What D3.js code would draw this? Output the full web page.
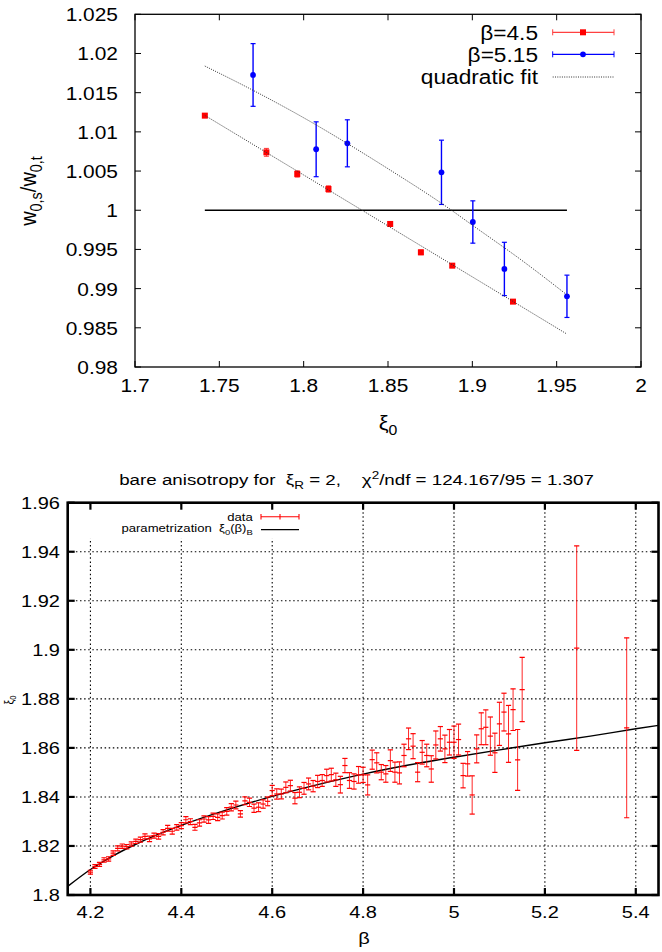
<!DOCTYPE html>
<html><head><meta charset="utf-8">
<script src="https://cdn.jsdelivr.net/npm/d3@7"></script>
<style>
body{margin:0;background:#fff}
svg{display:block}
text{font-family:"Liberation Sans",Arial,Helvetica,sans-serif;fill:#000;white-space:pre}
</style>
</head><body>
<svg id="c" width="662" height="952"></svg>
<script>
// ---------- TOP CHART DATA ----------
const topXTicks = [1.7, 1.75, 1.8, 1.85, 1.9, 1.95, 2.0];
const topXTickLabels = ["1.7", "1.75", "1.8", "1.85", "1.9", "1.95", "2"];
const topYTicks = [0.98, 0.985, 0.99, 0.995, 1.0, 1.005, 1.01, 1.015, 1.02, 1.025];
const topYTickLabels = ["0.98", "0.985", "0.99", "0.995", "1", "1.005", "1.01", "1.015", "1.02", "1.025"];

const xi45 = [1.7414, 1.7779, 1.7962, 1.8147, 1.8513, 1.8695, 1.8881, 1.9241];
const ratio45 = [1.01207, 1.00739, 1.00463, 1.00271, 0.99825, 0.99463, 0.99293, 0.98834];
const err45 = [0.0002, 0.0005, 0.0004, 0.0004, 0.0003, 0.0003, 0.0002, 0.0002];

const xi515 = [1.7700, 1.8074, 1.8259, 1.8817, 1.9003, 1.9190, 1.9561];
const ratio515 = [1.01726, 1.00778, 1.00854, 1.00484, 0.99850, 0.99251, 0.98902];
const err515 = [0.0040, 0.0035, 0.0030, 0.0041, 0.0027, 0.0034, 0.0027];

const fit45X = [1.7414, 1.80, 1.85, 1.90, 1.9561];
const fit45Y = [1.0121, 1.0045, 0.9980, 0.9915, 0.9842];
const fit515X = [1.7414, 1.77, 1.80, 1.826, 1.85, 1.885, 1.90, 1.93, 1.9561];
const fit515Y = [1.0184, 1.0153, 1.0118, 1.0085, 1.0053, 1.0004, 0.9981, 0.9935, 0.9892];
const unityX = [1.7414, 1.9561];
const unityY = [1.0, 1.0];
const topLegend = ["\u03b2=4.5", "\u03b2=5.15", "quadratic fit"];

// ---------- BOTTOM CHART DATA ----------
const botXTicks = [4.2, 4.4, 4.6, 4.8, 5.0, 5.2, 5.4];
const botXTickLabels = ["4.2", "4.4", "4.6", "4.8", "5", "5.2", "5.4"];
const botYTicks = [1.8, 1.82, 1.84, 1.86, 1.88, 1.9, 1.92, 1.94, 1.96];
const botYTickLabels = ["1.8", "1.82", "1.84", "1.86", "1.88", "1.9", "1.92", "1.94", "1.96"];

const beta = [4.20,4.21,4.22,4.23,4.24,4.25,4.26,4.27,4.28,4.29,
  4.30,4.31,4.32,4.33,4.34,4.35,4.36,4.37,4.38,4.39,
  4.40,4.41,4.42,4.43,4.44,4.45,4.46,4.47,4.48,4.49,
  4.50,4.51,4.52,4.53,4.54,4.55,4.56,4.57,4.58,4.59,
  4.60,4.61,4.62,4.63,4.64,4.65,4.66,4.67,4.68,4.69,
  4.70,4.71,4.72,4.73,4.74,4.75,4.76,4.77,4.78,4.79,
  4.80,4.81,4.82,4.83,4.84,4.85,4.86,4.87,4.88,4.89,
  4.90,4.91,4.92,4.93,4.94,4.95,4.96,4.97,4.98,4.99,
  5.00,5.01,5.02,5.03,5.04,5.05,5.06,5.07,5.08,5.09,
  5.10,5.11,5.12,5.13,5.14,5.15,5.27,5.38];
const xi0 = [1.8093,1.8116,1.8125,1.8143,1.8147,1.8171,1.8190,1.8199,1.8197,1.8208,
  1.8219,1.8226,1.8239,1.8229,1.8242,1.8239,1.8256,1.8272,1.8260,1.8276,
  1.8283,1.8307,1.8299,1.8276,1.8294,1.8310,1.8306,1.8321,1.8317,1.8324,
  1.8341,1.8358,1.8367,1.8331,1.8384,1.8378,1.8354,1.8358,1.8371,1.8382,
  1.8426,1.8412,1.8412,1.8439,1.8446,1.8395,1.8419,1.8435,1.8453,1.8444,
  1.8463,1.8467,1.8487,1.8491,1.8470,1.8450,1.8528,1.8467,1.8463,1.8490,
  1.8490,1.8449,1.8552,1.8539,1.8501,1.8494,1.8548,1.8501,1.8498,1.8569,
  1.8637,1.8607,1.8501,1.8582,1.8569,1.8514,1.8612,1.8637,1.8596,1.8623,
  1.8623,1.8634,1.8487,1.8535,1.8408,1.8596,1.8678,1.8684,1.8648,1.8580,
  1.8698,1.8746,1.8657,1.8756,1.8551,1.8838,1.9007,1.8682];
const xi0Err = [0.0008,0.0008,0.0008,0.0009,0.0009,0.0009,0.0010,0.0009,0.0009,0.0009,
  0.0009,0.0010,0.0010,0.0011,0.0010,0.0011,0.0011,0.0012,0.0012,0.0011,
  0.0012,0.0013,0.0012,0.0012,0.0013,0.0013,0.0014,0.0013,0.0014,0.0014,
  0.0015,0.0015,0.0016,0.0013,0.0016,0.0017,0.0017,0.0018,0.0017,0.0018,
  0.0021,0.0021,0.0020,0.0022,0.0022,0.0023,0.0022,0.0024,0.0024,0.0023,
  0.0025,0.0024,0.0026,0.0026,0.0027,0.0034,0.0029,0.0032,0.0031,0.0034,
  0.0031,0.0041,0.0039,0.0041,0.0031,0.0034,0.0044,0.0041,0.0045,0.0046,
  0.0044,0.0051,0.0039,0.0048,0.0046,0.0054,0.0057,0.0050,0.0056,0.0052,
  0.0066,0.0063,0.0050,0.0050,0.0078,0.0057,0.0065,0.0071,0.0078,0.0080,
  0.0088,0.0077,0.0116,0.0085,0.0124,0.0131,0.0417,0.0367];

const paramX = [4.15,4.20,4.25,4.30,4.35,4.40,4.50,4.60,4.70,4.80,4.90,5.00,5.10,5.20,5.30,5.40,5.45];
const paramY = [1.8035,1.8104,1.8160,1.8207,1.8248,1.8284,1.8347,1.8402,1.8450,1.8493,1.8530,1.8562,1.8592,1.8621,1.8648,1.8678,1.8692];

// ---------- DRAW ----------
const svg = d3.select("#c");

function label(g, x, y, size, sx, anchor, parts, rot) {
  const t = g.append("text")
    .attr("transform", `translate(${x},${y}) scale(${sx},1)` + (rot ? ` rotate(${rot})` : ""))
    .attr("font-size", size)
    .attr("text-anchor", anchor);
  if (typeof parts === "string") { t.text(parts); return t; }
  parts.forEach(p => {
    const s = t.append("tspan").text(p.t);
    if (p.sub) s.attr("font-size", size * 0.72).attr("dy", size * 0.25);
    if (p.sup) s.attr("font-size", size * 0.72).attr("dy", -size * 0.42);
    if (p.back) s.attr("dy", p.back);
  });
  return t;
}

// ===== TOP =====
{
  const L = 135, R = 641, T = 14.3, B = 367;
  const x = d3.scaleLinear().domain([1.7, 2.0]).range([L, R]);
  const y = d3.scaleLinear().domain([0.98, 1.025]).range([B, T]);
  const g = svg.append("g");
  const fs = 19, sx = 1.1;

  // ticks (mirror, inward)
  const tl = 6;
  topXTicks.forEach(v => {
    g.append("line").attr("x1", x(v)).attr("x2", x(v)).attr("y1", B).attr("y2", B - tl).attr("stroke", "#000");
    g.append("line").attr("x1", x(v)).attr("x2", x(v)).attr("y1", T).attr("y2", T + tl).attr("stroke", "#000");
  });
  topYTicks.forEach(v => {
    g.append("line").attr("x1", L).attr("x2", L + tl).attr("y1", y(v)).attr("y2", y(v)).attr("stroke", "#000");
    g.append("line").attr("x1", R).attr("x2", R - tl).attr("y1", y(v)).attr("y2", y(v)).attr("stroke", "#000");
  });
  topXTicks.forEach((v, i) => label(g, x(v), 392, fs, sx, "middle", topXTickLabels[i]));
  topYTicks.forEach((v, i) => label(g, 118, y(v) + 7, fs, sx, "end", topYTickLabels[i]));

  g.append("rect").attr("x", L).attr("y", T).attr("width", R - L).attr("height", B - T)
    .attr("fill", "none").attr("stroke", "#000").attr("stroke-width", 1.3);

  // unity line
  const line = d3.line().x(d => x(d[0])).y(d => y(d[1]));
  g.append("path").attr("d", line(unityX.map((v, i) => [v, unityY[i]])))
    .attr("stroke", "#000").attr("stroke-width", 1.3).attr("fill", "none");

  // beta=4.5 red
  xi45.forEach((v, i) => {
    const cx = x(v), y1 = y(ratio45[i] - err45[i]), y2 = y(ratio45[i] + err45[i]);
    g.append("line").attr("x1", cx).attr("x2", cx).attr("y1", y1).attr("y2", y2).attr("stroke", "#ff3030").attr("stroke-width", 1);
    [y1, y2].forEach(yy => g.append("line").attr("x1", cx - 2.5).attr("x2", cx + 2.5).attr("y1", yy).attr("y2", yy).attr("stroke", "#ff3030"));
    g.append("rect").attr("x", cx - 3).attr("y", y(ratio45[i]) - 3).attr("width", 6).attr("height", 6).attr("fill", "#ff0000");
  });
  // beta=5.15 blue
  xi515.forEach((v, i) => {
    const cx = x(v), y1 = y(ratio515[i] - err515[i]), y2 = y(ratio515[i] + err515[i]);
    g.append("line").attr("x1", cx).attr("x2", cx).attr("y1", y1).attr("y2", y2).attr("stroke", "#0000ff").attr("stroke-width", 1.4);
    [y1, y2].forEach(yy => g.append("line").attr("x1", cx - 2.5).attr("x2", cx + 2.5).attr("y1", yy).attr("y2", yy).attr("stroke", "#0000ff").attr("stroke-width", 1.2));
    g.append("circle").attr("cx", cx).attr("cy", y(ratio515[i])).attr("r", 2.9).attr("fill", "#0000ff");
  });
  // fits
  const cl = d3.line().x(d => x(d[0])).y(d => y(d[1])).curve(d3.curveMonotoneX);
  [[fit45X, fit45Y], [fit515X, fit515Y]].forEach(([fx, fy]) => {
    g.append("path").attr("d", cl(fx.map((v, i) => [v, fy[i]])))
      .attr("fill", "none").attr("stroke", "#333").attr("stroke-width", 1).attr("stroke-dasharray", "1,1.3");
  });

  // legend
  const lx1 = 552.7, lx2 = 614, lxm = 583, tx = 538;
  const ly = [32.3, 54.3, 77];
  label(g, tx, ly[0] + 7.5, 21, 1.08, "end", topLegend[0]);
  label(g, tx, ly[1] + 7.5, 21, 1.08, "end", topLegend[1]);
  label(g, tx, ly[2] + 7, 21, 1.08, "end", topLegend[2]);
  g.append("line").attr("x1", lx1).attr("x2", lx2).attr("y1", ly[0]).attr("y2", ly[0]).attr("stroke", "#ff4040").attr("stroke-width", 1.3);
  [lx1, lx2].forEach(xx => g.append("line").attr("x1", xx).attr("x2", xx).attr("y1", ly[0] - 3).attr("y2", ly[0] + 3).attr("stroke", "#ff4040"));
  g.append("rect").attr("x", lxm - 3).attr("y", ly[0] - 3).attr("width", 6).attr("height", 6).attr("fill", "#ff0000");
  g.append("line").attr("x1", lx1).attr("x2", lx2).attr("y1", ly[1]).attr("y2", ly[1]).attr("stroke", "#0000ff").attr("stroke-width", 1.3);
  [lx1, lx2].forEach(xx => g.append("line").attr("x1", xx).attr("x2", xx).attr("y1", ly[1] - 3).attr("y2", ly[1] + 3).attr("stroke", "#0000ff"));
  g.append("circle").attr("cx", lxm).attr("cy", ly[1]).attr("r", 2.9).attr("fill", "#0000ff");
  g.append("line").attr("x1", lx1).attr("x2", lx2).attr("y1", ly[2]).attr("y2", ly[2]).attr("stroke", "#333").attr("stroke-dasharray", "1,1.3");

  // axis titles
  label(g, 388, 430, 20, 1.1, "middle", [{t: "\u03be"}, {t: "0", sub: true}]);
  label(g, 36, 191, 20, 1.1, "middle", [{t: "w"}, {t: "0,s", sub: true}, {t: "/w", back: -5}, {t: "0,t", sub: true}], -90);
}

// ===== BOTTOM =====
{
  const L = 67.7, R = 658.5, T = 502.7, B = 895;
  const x = d3.scaleLinear().domain([4.15, 5.45]).range([L, R]);
  const y = d3.scaleLinear().domain([1.8, 1.96]).range([B, T]);
  const g = svg.append("g");
  const fs = 16, sx = 1.25;

  // title
  label(g, 356.5, 485, 15, 1.25, "middle", [
    {t: "bare anisotropy for  \u03be"}, {t: "R", sub: true}, {t: " = 2,    \u03c7", back: -3.75},
    {t: "2", sup: true}, {t: "/ndf = 124.167/95 = 1.307", back: 6.3}
  ]);

  // grid
  const grid = g.append("g").attr("stroke", "#000").attr("stroke-width", 1.1).attr("stroke-dasharray", "1.5,2.6");
  botXTicks.forEach(v => grid.append("line").attr("x1", x(v)).attr("x2", x(v)).attr("y1", B).attr("y2", T));
  botYTicks.slice(1, -1).forEach(v => grid.append("line").attr("x1", L).attr("x2", R).attr("y1", y(v)).attr("y2", y(v)));
  // opaque key area
  g.append("rect").attr("x", L + 2).attr("y", T + 2).attr("width", 238).attr("height", 34).attr("fill", "#fff");

  // parametrization curve
  const clipId = "clipB";
  svg.append("clipPath").attr("id", clipId).append("rect").attr("x", L).attr("y", T).attr("width", R - L).attr("height", B - T);
  const cl = d3.line().x(d => x(d[0])).y(d => y(d[1])).curve(d3.curveMonotoneX);
  g.append("path").attr("clip-path", `url(#${clipId})`).attr("d", cl(paramX.map((v, i) => [v, paramY[i]])))
    .attr("fill", "none").attr("stroke", "#000").attr("stroke-width", 1.4);

  // data with error bars
  const dg = g.append("g").attr("stroke", "#ff0000").attr("clip-path", `url(#${clipId})`);
  beta.forEach((b, i) => {
    const cx = x(b), cy = y(xi0[i]), y1 = y(xi0[i] - xi0Err[i]), y2 = y(xi0[i] + xi0Err[i]);
    dg.append("line").attr("x1", cx).attr("x2", cx).attr("y1", y1).attr("y2", y2).attr("stroke-width", 1).attr("stroke-opacity", 0.85);
    [y1, y2].forEach(yy => dg.append("line").attr("x1", cx - 2.6).attr("x2", cx + 2.6).attr("y1", yy).attr("y2", yy).attr("stroke-width", 1.2));
    dg.append("line").attr("x1", cx - 2.6).attr("x2", cx + 2.6).attr("y1", cy).attr("y2", cy).attr("stroke-width", 1.2);
  });

  // ticks
  const tl = 7;
  const tg = g.append("g").attr("stroke", "#000").attr("stroke-width", 2.2);
  botXTicks.forEach(v => {
    tg.append("line").attr("x1", x(v)).attr("x2", x(v)).attr("y1", B).attr("y2", B - tl);
    tg.append("line").attr("x1", x(v)).attr("x2", x(v)).attr("y1", T).attr("y2", T + tl);
  });
  botYTicks.forEach(v => {
    tg.append("line").attr("x1", L).attr("x2", L + tl).attr("y1", y(v)).attr("y2", y(v));
    tg.append("line").attr("x1", R).attr("x2", R - tl).attr("y1", y(v)).attr("y2", y(v));
  });
  g.append("rect").attr("x", L).attr("y", T).attr("width", R - L).attr("height", B - T)
    .attr("fill", "none").attr("stroke", "#000").attr("stroke-width", 2.6);

  botXTicks.forEach((v, i) => label(g, x(v), 917.5, fs, sx, "middle", botXTickLabels[i]));
  botYTicks.forEach((v, i) => label(g, 60, y(v) + 5.8, fs, sx, "end", botYTickLabels[i]));

  // legend
  const k1 = 261, k2 = 299, km = 280, kt = 252.8;
  label(g, kt, 520.7, 10.5, 1.25, "end", "data");
  g.append("line").attr("x1", k1).attr("x2", k2).attr("y1", 516.7).attr("y2", 516.7).attr("stroke", "#ff0000").attr("stroke-width", 1.1);
  [k1, km, k2].forEach(xx => g.append("line").attr("x1", xx).attr("x2", xx).attr("y1", 513.9).attr("y2", 519.5).attr("stroke", "#ff0000").attr("stroke-width", 1.1));
  label(g, kt, 532, 10.5, 1.25, "end", [
    {t: "parametrization  \u03be"}, {t: "0", sub: true}, {t: "(\u03b2)", back: -2.6}, {t: "B", sub: true}
  ]);
  g.append("line").attr("x1", k1).attr("x2", k2).attr("y1", 529.7).attr("y2", 529.7).attr("stroke", "#000").attr("stroke-width", 1.3);

  // axis titles
  label(g, 364, 944, 16, 1.25, "middle", "\u03b2");
  label(g, 13, 700, 10.5, 1.2, "middle", [{t: "\u03be"}, {t: "0", sub: true}], -90);
}
</script>
</body></html>
